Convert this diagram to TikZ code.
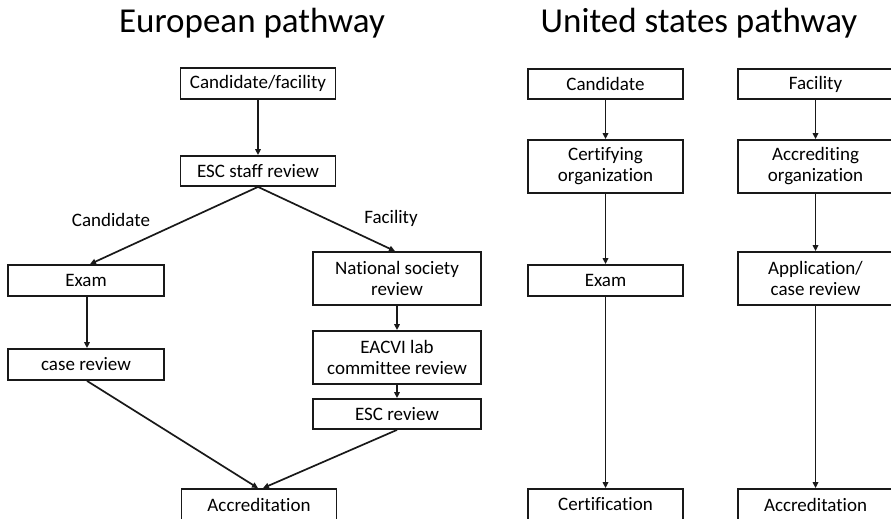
\documentclass[tikz,border=0pt]{standalone}
\usepackage{fontspec}
\setmainfont{Carlito}[Ligatures={NoCommon}]
\usetikzlibrary{arrows.meta}
\tikzset{
  box/.style={draw=black!90, line width=1.8pt, minimum width=155pt, minimum height=31pt,
    inner sep=0pt, align=center, font=\fontsize{19}{21}\selectfont},
  tallbox/.style={box, minimum height=53pt},
  flow/.style={draw=black!90, line width=1.7pt, -{Triangle[length=6pt,width=5.5pt]}},
  lbl/.style={font=\fontsize{19}{21}\selectfont},
  heading/.style={font=\fontsize{35}{40}\selectfont, anchor=base}
}
\begin{document}
\begin{tikzpicture}[x=1pt, y=-1pt]
\useasboundingbox (0,0) rectangle (891,519);

% headings
\node[heading] (eutitle) at (252,33) {European pathway};
\node[heading] (ustitle) at (699,33) {United states pathway};

% European pathway
\node[box] (cf)    at (258,83.5)  {Candidate/facility};
\node[box, minimum height=30pt] (esc) at (258,171) {ESC staff review};
\node[box, minimum width=156pt] (exam) at (86,280.5) {Exam};
\node[box, minimum width=156pt] (case) at (86,364.5) {case review};
\node[tallbox, minimum width=168pt] (nat)   at (397,278.5) {National society\\review};
\node[tallbox, minimum width=168pt] (eacvi) at (397,357.5) {EACVI lab\\committee review};
\node[box, minimum width=168pt, minimum height=30pt] (escr) at (397,414) {ESC review};
\node[box] (acc)   at (259,504.5) {Accreditation};

\node[lbl] (lcand) at (111,220) {Candidate};
\node[lbl] (lfac)  at (391,218) {Facility};

\draw[flow] (cf) -- (esc);
\draw[flow] (esc.south) -- ([xshift=4pt]exam.north);
\draw[flow] (esc.south) -- ([xshift=-2pt]nat.north);
\draw[flow] ([xshift=1pt]exam.south) -- ([xshift=1pt]case.north);
\draw[flow] (nat) -- (eacvi);
\draw[flow] (eacvi) -- (escr);
\draw[flow] ([xshift=1pt]case.south) -- ([xshift=-1pt]acc.north);
\draw[flow] (escr.south) -- ([xshift=4pt]acc.north);

% United States pathway
\node[box, minimum height=30pt] (uc) at (605.5,84) {Candidate};
\node[tallbox] (cert)   at (605.5,166.5) {Certifying\\organization};
\node[box] (uexam)      at (605.5,280.5) {Exam};
\node[box] (certif)     at (605.5,504.5) {Certification};

\node[box, minimum height=30pt] (uf) at (815.5,84) {Facility};
\node[tallbox] (accorg) at (815.5,166.5) {Accrediting\\organization};
\node[tallbox] (app)    at (815.5,278.5) {Application/\\case review};
\node[box] (uacc)       at (815.5,504.5) {Accreditation};

\draw[flow] (uc) -- (cert);
\draw[flow] (cert) -- (uexam);
\draw[flow] (uexam) -- (certif);
\draw[flow] (uf) -- (accorg);
\draw[flow] (accorg) -- (app);
\draw[flow] (app) -- (uacc);
\end{tikzpicture}
\end{document}
